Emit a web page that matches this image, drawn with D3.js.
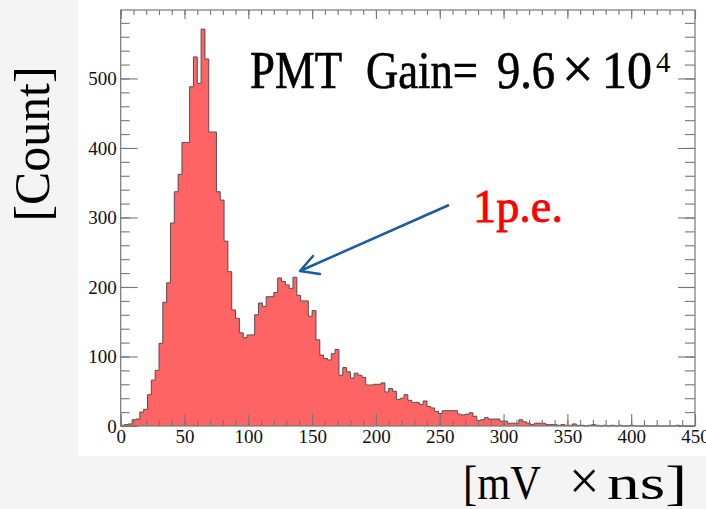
<!DOCTYPE html>
<html>
<head>
<meta charset="utf-8">
<script src="https://cdn.jsdelivr.net/npm/d3@7"></script>
<style>
  body { margin: 0; background: #f4f4f4; }
  svg { display: block; }
  .tick text { font-family: "Liberation Serif", "DejaVu Serif", serif; font-size: 19px; fill: #111; }
  .tick line { stroke: #777; stroke-width: 1.1; }
</style>
</head>
<body>
<svg id="chart" width="706" height="509"></svg>
<script>
// histogram data (bin width 3 mV*ns, 0..450)
var binWidth = 3;
var counts = [
  1, 2, 3, 9, 10, 20, 24, 45, 66, 80,
  119, 178, 206, 292, 337, 362, 408, 408, 488, 531,
  493, 571, 528, 423, 423, 337, 325, 266, 222, 167,
  155, 134, 127, 131, 131, 160, 177, 172, 186, 186,
  192, 213, 208, 203, 198, 214, 188, 180, 180, 158,
  166, 124, 102, 97, 95, 104, 110, 73, 84, 78,
  69, 76, 73, 70, 59, 59, 60, 60, 62, 49,
  54, 50, 38, 40, 45, 37, 34, 34, 31, 36,
  28, 26, 21, 18, 22, 22, 22, 22, 17, 16,
  17, 19, 14, 8, 9, 12, 10, 10, 10, 7,
  7, 4, 4, 4, 9, 6, 4, 2, 4, 4,
  4, 2, 2, 2, 1, 2, 1, 1, 3, 1,
  1, 0, 1, 2, 1, 0, 1, 0, 1, 0,
  1, 0, 0, 1, 0, 0, 0, 0, 0, 0,
  0, 0, 0, 0, 0, 1, 0, 0, 0, 0
];
var xTicks = [0, 50, 100, 150, 200, 250, 300, 350, 400, 450];
var yTicks = [0, 100, 200, 300, 400, 500];
var xRange = [0, 450];
var yMax = 598.5;

var svg = d3.select("#chart");

// white pane behind the plot
svg.append("rect")
  .attr("x", 78).attr("y", 0)
  .attr("width", 628).attr("height", 456)
  .attr("fill", "#ffffff");

var padLeft = 120.7, padRight = 695, padTop = 10, padBottom = 426;

var x = d3.scaleLinear().domain(xRange).range([padLeft, padRight]);
var y = d3.scaleLinear().domain([0, yMax]).range([padBottom, padTop]);

// step outline of the histogram
var pts = [[x(0), y(0)]];
counts.forEach(function(c, i) {
  pts.push([x(i * binWidth), y(c)]);
  pts.push([x((i + 1) * binWidth), y(c)]);
});
pts.push([x(counts.length * binWidth), y(0)]);

svg.append("path")
  .attr("d", d3.line()(pts))
  .attr("fill", "#ff6464")
  .attr("stroke", "#5a4a4a")
  .attr("stroke-width", 1);

// axes: major + minor ticks on all four sides, pointing inward
function minor(step, max) { return d3.range(0, max + 0.001, step); }
function noDomain(g) { g.select(".domain").remove(); }

svg.append("g")
  .attr("transform", "translate(0," + padBottom + ")")
  .call(d3.axisBottom(x).tickValues(minor(10, 450)).tickSize(-6).tickFormat(""))
  .call(noDomain);
svg.append("g")
  .attr("transform", "translate(0," + padBottom + ")")
  .call(d3.axisBottom(x).tickValues(xTicks).tickSize(-12).tickPadding(3).tickFormat(d3.format("d")))
  .call(noDomain);

svg.append("g")
  .attr("transform", "translate(0," + padTop + ")")
  .call(d3.axisTop(x).tickValues(minor(10, 450)).tickSize(-5).tickFormat(""))
  .call(noDomain);
svg.append("g")
  .attr("transform", "translate(0," + padTop + ")")
  .call(d3.axisTop(x).tickValues(xTicks).tickSize(-9).tickFormat(""))
  .call(noDomain);

svg.append("g")
  .attr("transform", "translate(" + padLeft + ",0)")
  .call(d3.axisLeft(y).tickValues(minor(20, 580)).tickSize(-9).tickFormat(""))
  .call(noDomain);
svg.append("g")
  .attr("transform", "translate(" + padLeft + ",0)")
  .call(d3.axisLeft(y).tickValues(yTicks).tickSize(-17).tickPadding(4).tickFormat(d3.format("d")))
  .call(noDomain);

svg.append("g")
  .attr("transform", "translate(" + padRight + ",0)")
  .call(d3.axisRight(y).tickValues(minor(20, 580)).tickSize(-10).tickFormat(""))
  .call(noDomain);
svg.append("g")
  .attr("transform", "translate(" + padRight + ",0)")
  .call(d3.axisRight(y).tickValues(yTicks).tickSize(-17).tickFormat(""))
  .call(noDomain);

// frame
svg.append("rect")
  .attr("x", padLeft).attr("y", padTop)
  .attr("width", padRight - padLeft).attr("height", padBottom - padTop)
  .attr("fill", "none")
  .attr("stroke", "#777")
  .attr("stroke-width", 1.2);

var serif = "'Liberation Serif', 'DejaVu Serif', serif";

// place a row of words at fixed x positions; width null keeps natural size
function words(sel, parts) {
  parts.forEach(function(p) {
    var t = sel.append("tspan").attr("x", p[1]).text(p[0]);
    if (p[2]) t.attr("textLength", p[2]).attr("lengthAdjust", "spacingAndGlyphs");
    if (p[3]) t.style("font-size", p[3]);
  });
}

// axis titles
svg.append("text")
  .attr("transform", "translate(49,144) rotate(-90)")
  .attr("text-anchor", "middle")
  .attr("textLength", 155)
  .attr("lengthAdjust", "spacingAndGlyphs")
  .style("font-family", serif)
  .style("font-size", "50px")
  .text("[Count]");

svg.append("text")
  .attr("y", 499)
  .style("font-family", serif)
  .style("font-size", "48px")
  .call(words, [["[mV", 463, 78], ["\u00d7", 569, null, "54px"], ["ns]", 607, 80]]);

// gain annotation
svg.append("text")
  .attr("y", 88)
  .style("font-family", serif)
  .style("font-size", "52px")
  .style("stroke", "#000")
  .style("stroke-width", 0.7)
  .call(words, [["PMT", 250, 92], ["Gain=", 366, 112], ["9.6", 497, 58],
                ["\u00d7", 562, null, "56px"], ["10", 602, 50]]);
svg.append("text")
  .attr("x", 656).attr("y", 72)
  .style("font-family", serif)
  .style("font-size", "29px")
  .text("4");

// 1 p.e. label and arrow
svg.append("text")
  .attr("x", 473).attr("y", 222)
  .attr("textLength", 90)
  .attr("lengthAdjust", "spacingAndGlyphs")
  .style("font-family", serif)
  .style("font-size", "47px")
  .style("fill", "#ff0000")
  .style("stroke", "#ff0000")
  .style("stroke-width", 0.8)
  .text("1p.e.");

var arrowColor = "#1b5c9c";
svg.append("line")
  .attr("x1", 449).attr("y1", 205)
  .attr("x2", 300).attr("y2", 271)
  .attr("stroke", arrowColor)
  .attr("stroke-width", 2.5);
svg.append("polyline")
  .attr("points", "313,256 300,271 320,274")
  .attr("fill", "none")
  .attr("stroke", arrowColor)
  .attr("stroke-width", 2.5)
  .attr("stroke-linecap", "round")
  .attr("stroke-linejoin", "round");
</script>
</body>
</html>
